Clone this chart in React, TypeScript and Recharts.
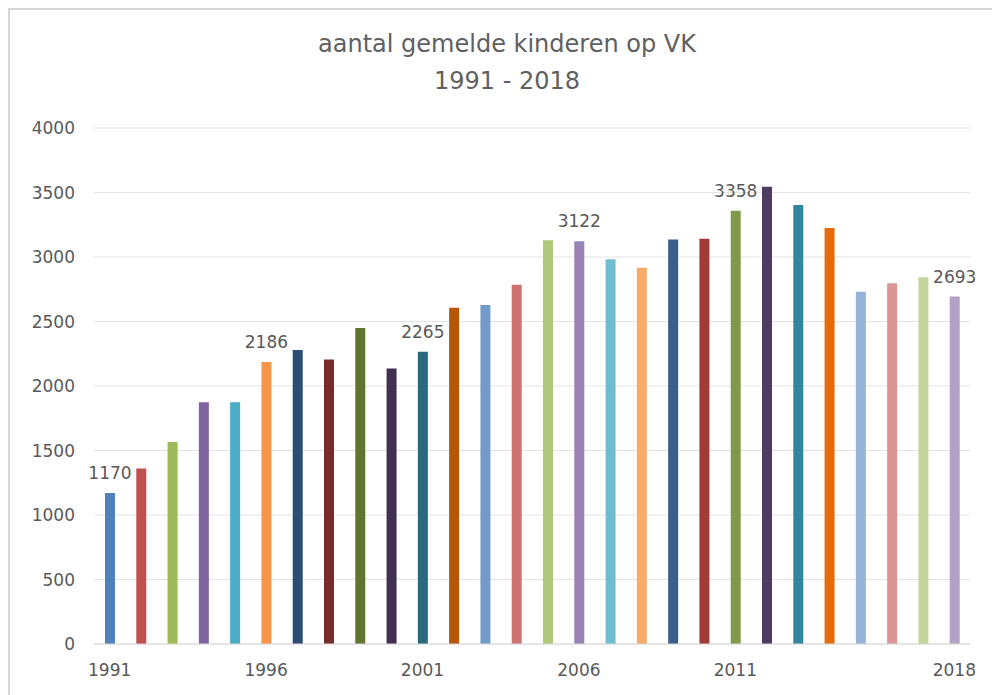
import React from 'react';
import { BarChart, Bar, XAxis, YAxis, CartesianGrid, Cell, LabelList } from 'recharts';

const years = [
  1991, 1992, 1993, 1994, 1995, 1996, 1997, 1998, 1999, 2000,
  2001, 2002, 2003, 2004, 2005, 2006, 2007, 2008, 2009, 2010,
  2011, 2012, 2013, 2014, 2015, 2016, 2017, 2018,
];

const counts = [
  1170, 1360, 1565, 1875, 1875, 2186, 2280, 2205, 2450, 2135,
  2265, 2607, 2627, 2784, 3130, 3122, 2982, 2917, 3135, 3141,
  3358, 3545, 3404, 3224, 2731, 2796, 2843, 2693,
];

// years that carry a data label above the bar
const labelledYears = [1991, 1996, 2001, 2006, 2011, 2018];

// years shown on the x axis
const axisYears = [1991, 1996, 2001, 2006, 2011, 2018];

const yTicks = [0, 500, 1000, 1500, 2000, 2500, 3000, 3500, 4000];

// Excel style "vary colours by point" palette
const barColors = [
  '#4f81bd', '#c0504d', '#9bbb59', '#8064a2', '#4bacc6', '#f79646',
  '#2c4d75', '#772c2a', '#5f7530', '#403152', '#276a7c', '#b65708',
  '#729aca', '#cd7371', '#afc97a', '#9983b5', '#6fbdd1', '#f9ab6b',
  '#3a5f8b', '#9f3b38', '#7f9a48', '#4d3b62', '#31859c', '#e46c0a',
  '#95b3d7', '#d99694', '#c3d69b', '#b2a2c7',
];

const data = years.map((year, i) => ({
  year: String(year),
  value: counts[i],
  label: labelledYears.includes(year) ? counts[i] : null,
}));

const FONT = '"DejaVu Sans", sans-serif';
const TEXT = '#595959';

export default function App() {
  return (
    <div
      style={{
        position: 'absolute',
        left: 0,
        top: 0,
        width: 992,
        height: 695,
        background: '#fff',
        overflow: 'hidden',
        fontFamily: FONT,
      }}
    >
      <div
        style={{
          position: 'absolute',
          left: 8,
          top: 8,
          width: 1000,
          height: 700,
          borderLeft: '2px solid #d6d6d6',
          borderTop: '2px solid #d6d6d6',
        }}
      />
      <div
        style={{
          position: 'absolute',
          left: 207,
          width: 600,
          top: 26,
          textAlign: 'center',
          color: '#606060',
          fontSize: 24,
          lineHeight: '37px',
        }}
      >
        <div>aantal gemelde kinderen op VK</div>
        <div>1991 - 2018</div>
      </div>
      <div style={{ position: 'absolute', left: 0, top: 0 }}>
        <BarChart
          width={992}
          height={695}
          data={data}
          margin={{ top: 128, right: 22, bottom: 21, left: 0 }}
          barSize={10}
        >
          <CartesianGrid vertical={false} stroke="#e3e3e3" />
          <XAxis
            dataKey="year"
            interval={0}
            height={30}
            tickLine={false}
            axisLine={{ stroke: '#d9d9d9' }}
            tickMargin={14}
            tick={{ fill: TEXT, fontSize: 17, fontFamily: FONT }}
            tickFormatter={(v: string) => (axisYears.includes(Number(v)) ? v : '')}
          />
          <YAxis
            width={94}
            domain={[0, 4000]}
            ticks={yTicks}
            tickLine={false}
            axisLine={false}
            tickMargin={13}
            tick={{ fill: TEXT, fontSize: 17, fontFamily: FONT }}
          />
          <Bar dataKey="value" isAnimationActive={false}>
            {data.map((d, i) => (
              <Cell key={d.year} fill={barColors[i]} />
            ))}
            <LabelList
              dataKey="label"
              position="top"
              offset={14}
              fill={TEXT}
              fontSize={17}
              fontFamily={FONT}
            />
          </Bar>
        </BarChart>
      </div>
    </div>
  );
}
